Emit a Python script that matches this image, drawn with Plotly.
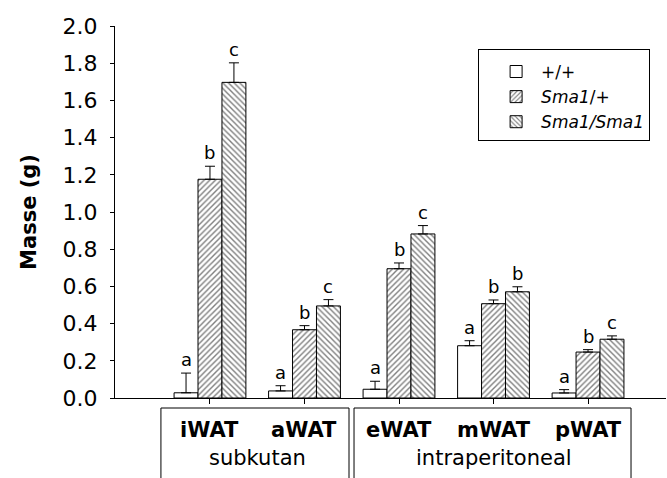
import plotly.graph_objects as go

tissues = ["iWAT", "aWAT", "eWAT", "mWAT", "pWAT"]
groups = ["subkutan", "intraperitoneal"]
series_names = ["+/+", "<i>Sma1</i>/+", "<i>Sma1/Sma1</i>"]

wt = [0.028, 0.038, 0.047, 0.281, 0.027]
het = [1.176, 0.367, 0.695, 0.507, 0.247]
hom = [1.697, 0.495, 0.882, 0.571, 0.316]

wt_err = [0.106, 0.028, 0.043, 0.027, 0.018]
het_err = [0.07, 0.022, 0.031, 0.02, 0.013]
hom_err = [0.105, 0.034, 0.045, 0.027, 0.018]

wt_sig = ["a", "a", "a", "a", "a"]
het_sig = ["b", "b", "b", "b", "b"]
hom_sig = ["c", "c", "c", "b", "c"]

y_ticks = [0.0, 0.2, 0.4, 0.6, 0.8, 1.0, 1.2, 1.4, 1.6, 1.8, 2.0]

FONT = "DejaVu Sans, Liberation Sans, Arial, sans-serif"
xpos = list(range(len(tissues)))
bargap = 0.24
bw = (1 - bargap) / 3

fig = go.Figure()
series = [
    (wt, wt_err, wt_sig, dict(shape="", fgcolor="black", bgcolor="white")),
    (het, het_err, het_sig, dict(shape="/", fgcolor="black", bgcolor="white", size=4, solidity=0.35)),
    (hom, hom_err, hom_sig, dict(shape="\\", fgcolor="black", bgcolor="white", size=4, solidity=0.35)),
]
for k, (vals, errs, sig, pat) in enumerate(series):
    fig.add_trace(go.Bar(
        x=xpos, y=vals, name=series_names[k],
        marker=dict(color="white", line=dict(color="black", width=1), pattern=pat),
        error_y=dict(type="data", symmetric=False, array=errs, arrayminus=[0] * len(errs),
                     color="black", thickness=1, width=5),
    ))
    for i in range(len(tissues)):
        fig.add_annotation(x=xpos[i] + (k - 1) * bw, y=vals[i] + errs[i], text=sig[i],
                           showarrow=False, yanchor="bottom", yshift=1,
                           font=dict(family=FONT, size=18, color="black"))

# category labels and group boxes below the axis
for i, t in enumerate(tissues):
    fig.add_annotation(x=xpos[i], y=-0.086, xref="x", yref="paper", text="<b>%s</b>" % t,
                       showarrow=False, yanchor="middle",
                       font=dict(family=FONT, size=21, color="black"))
fig.add_annotation(x=0.5, y=-0.161, xref="x", yref="paper", text=groups[0], showarrow=False,
                   yanchor="middle", font=dict(family=FONT, size=21, color="black"))
fig.add_annotation(x=3, y=-0.161, xref="x", yref="paper", text=groups[1], showarrow=False,
                   yanchor="middle", font=dict(family=FONT, size=21, color="black"))
for (x0, x1) in [(-0.519, 1.471), (1.524, 4.455)]:
    fig.add_shape(type="path", xref="x", yref="paper",
                  path="M %f,-0.30 L %f,-0.0269 L %f,-0.0269 L %f,-0.30" % (x0, x0, x1, x1),
                  line=dict(color="black", width=1))

fig.update_layout(
    width=667, height=478,
    margin=dict(l=115, r=1, t=26, b=80),
    paper_bgcolor="white", plot_bgcolor="white",
    barmode="group", bargap=bargap, bargroupgap=0,
    showlegend=True,
    legend=dict(x=0.659, y=0.938, xanchor="left", yanchor="top",
                bordercolor="black", borderwidth=1, bgcolor="white",
                font=dict(family=FONT, size=17, color="black"),
                indentation=12, itemwidth=40, tracegroupgap=0,
                title=dict(text="&nbsp;", font=dict(size=3))),
    xaxis=dict(range=[-1.005, 4.825], tickvals=xpos, ticktext=[""] * 5, showticklabels=False,
               ticks="outside", ticklen=5, tickcolor="black", showline=True, linecolor="black",
               linewidth=1, showgrid=False, zeroline=False),
    yaxis=dict(range=[0, 2.0], tickvals=y_ticks, ticktext=["%.1f" % v for v in y_ticks],
               ticks="outside", ticklen=4, tickcolor="black", showline=True, linecolor="black",
               linewidth=1, showgrid=False, zeroline=False, ticklabelstandoff=8,
               tickfont=dict(family=FONT, size=22, color="black"),
               title=dict(text="<b>Masse (g)</b>", standoff=20,
                          font=dict(family=FONT, size=21, color="black"))),
)

fig.write_html("out.html")
